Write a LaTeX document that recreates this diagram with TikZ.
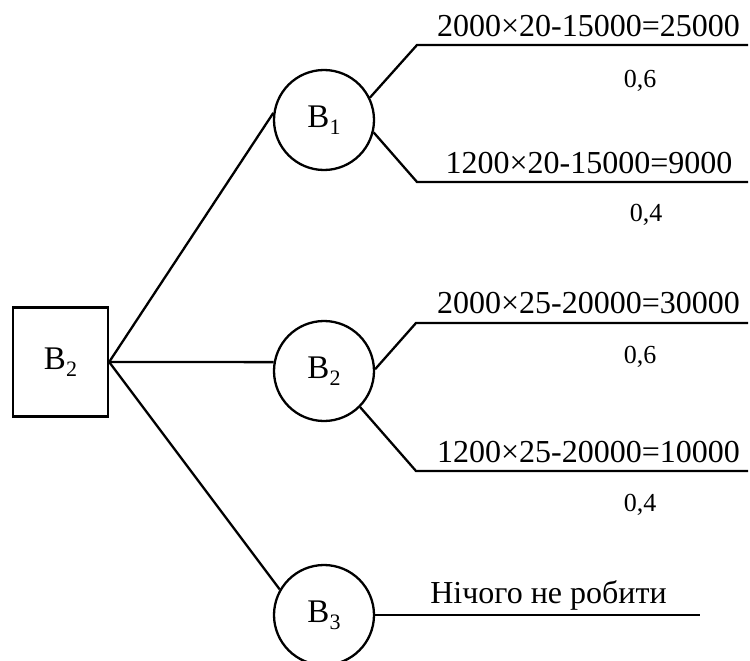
\documentclass[tikz,border=0pt]{standalone}
\usepackage{fontspec}
\setmainfont{Liberation Serif}
\newcommand{\lowidx}[1]{{\fontsize{22}{22}\selectfont\raisebox{-7pt}{#1}}}
\begin{document}
\begin{tikzpicture}[x=1pt,y=-1pt,line width=2.3pt,
  chance/.style={circle,draw,minimum size=100pt,inner sep=0pt,
    font=\fontsize{33}{40}\selectfont},
  decision/.style={rectangle,draw,minimum width=95pt,minimum height=109pt,
    inner sep=0pt,font=\fontsize{33}{40}\selectfont},
  payoff/.style={anchor=base,inner sep=0pt,font=\fontsize{32}{38}\selectfont},
  prob/.style={anchor=base,inner sep=0pt,font=\fontsize{26}{30}\selectfont}]
\useasboundingbox (0,0) rectangle (750,661);

% decision and chance nodes
\node[decision] (sq) at (60.5,362) {B\lowidx{2}};
\node[chance] (c1) at (324,120) {B\lowidx{1}};
\node[chance] (c2) at (324,371) {B\lowidx{2}};
\node[chance] (c3) at (324,615) {B\lowidx{3}};

% elbows and ends of the outcome lines
\coordinate (k11) at (417,45);  \coordinate (e11) at (748,45);
\coordinate (k12) at (417,182); \coordinate (e12) at (748,182);
\coordinate (k21) at (416,323); \coordinate (e21) at (748,323);
\coordinate (k22) at (416,471); \coordinate (e22) at (748,471);
\coordinate (e3) at (700,615);

% alternatives
\draw (sq.east) -- (c1.172);
\draw (sq.east) -- (c2.170);
\draw (sq.east) -- (c3.150);

% outcomes
\draw (c1.26) -- (k11) -- (e11);
\draw (c1.-14) -- (k12) -- (e12);
\draw (c2.2) -- (k21) -- (e21);
\draw (c2.-45) -- (k22) -- (e22);
\draw (c3.east) -- (e3);

% payoffs and probabilities
\node[payoff] (p11) at (588.5,37) {2000×20-15000=25000};
\node[prob] (q11) at (640,88) {0,6};
\node[payoff] (p12) at (589,173) {1200×20-15000=9000};
\node[prob] (q12) at (646,221) {0,4};
\node[payoff] (p21) at (588.5,313) {2000×25-20000=30000};
\node[prob] (q21) at (640,363) {0,6};
\node[payoff] (p22) at (588.5,462) {1200×25-20000=10000};
\node[prob] (q22) at (640,511) {0,4};
\node[payoff] (p3) at (548.5,603) {Нічого не робити};
\end{tikzpicture}
\end{document}
